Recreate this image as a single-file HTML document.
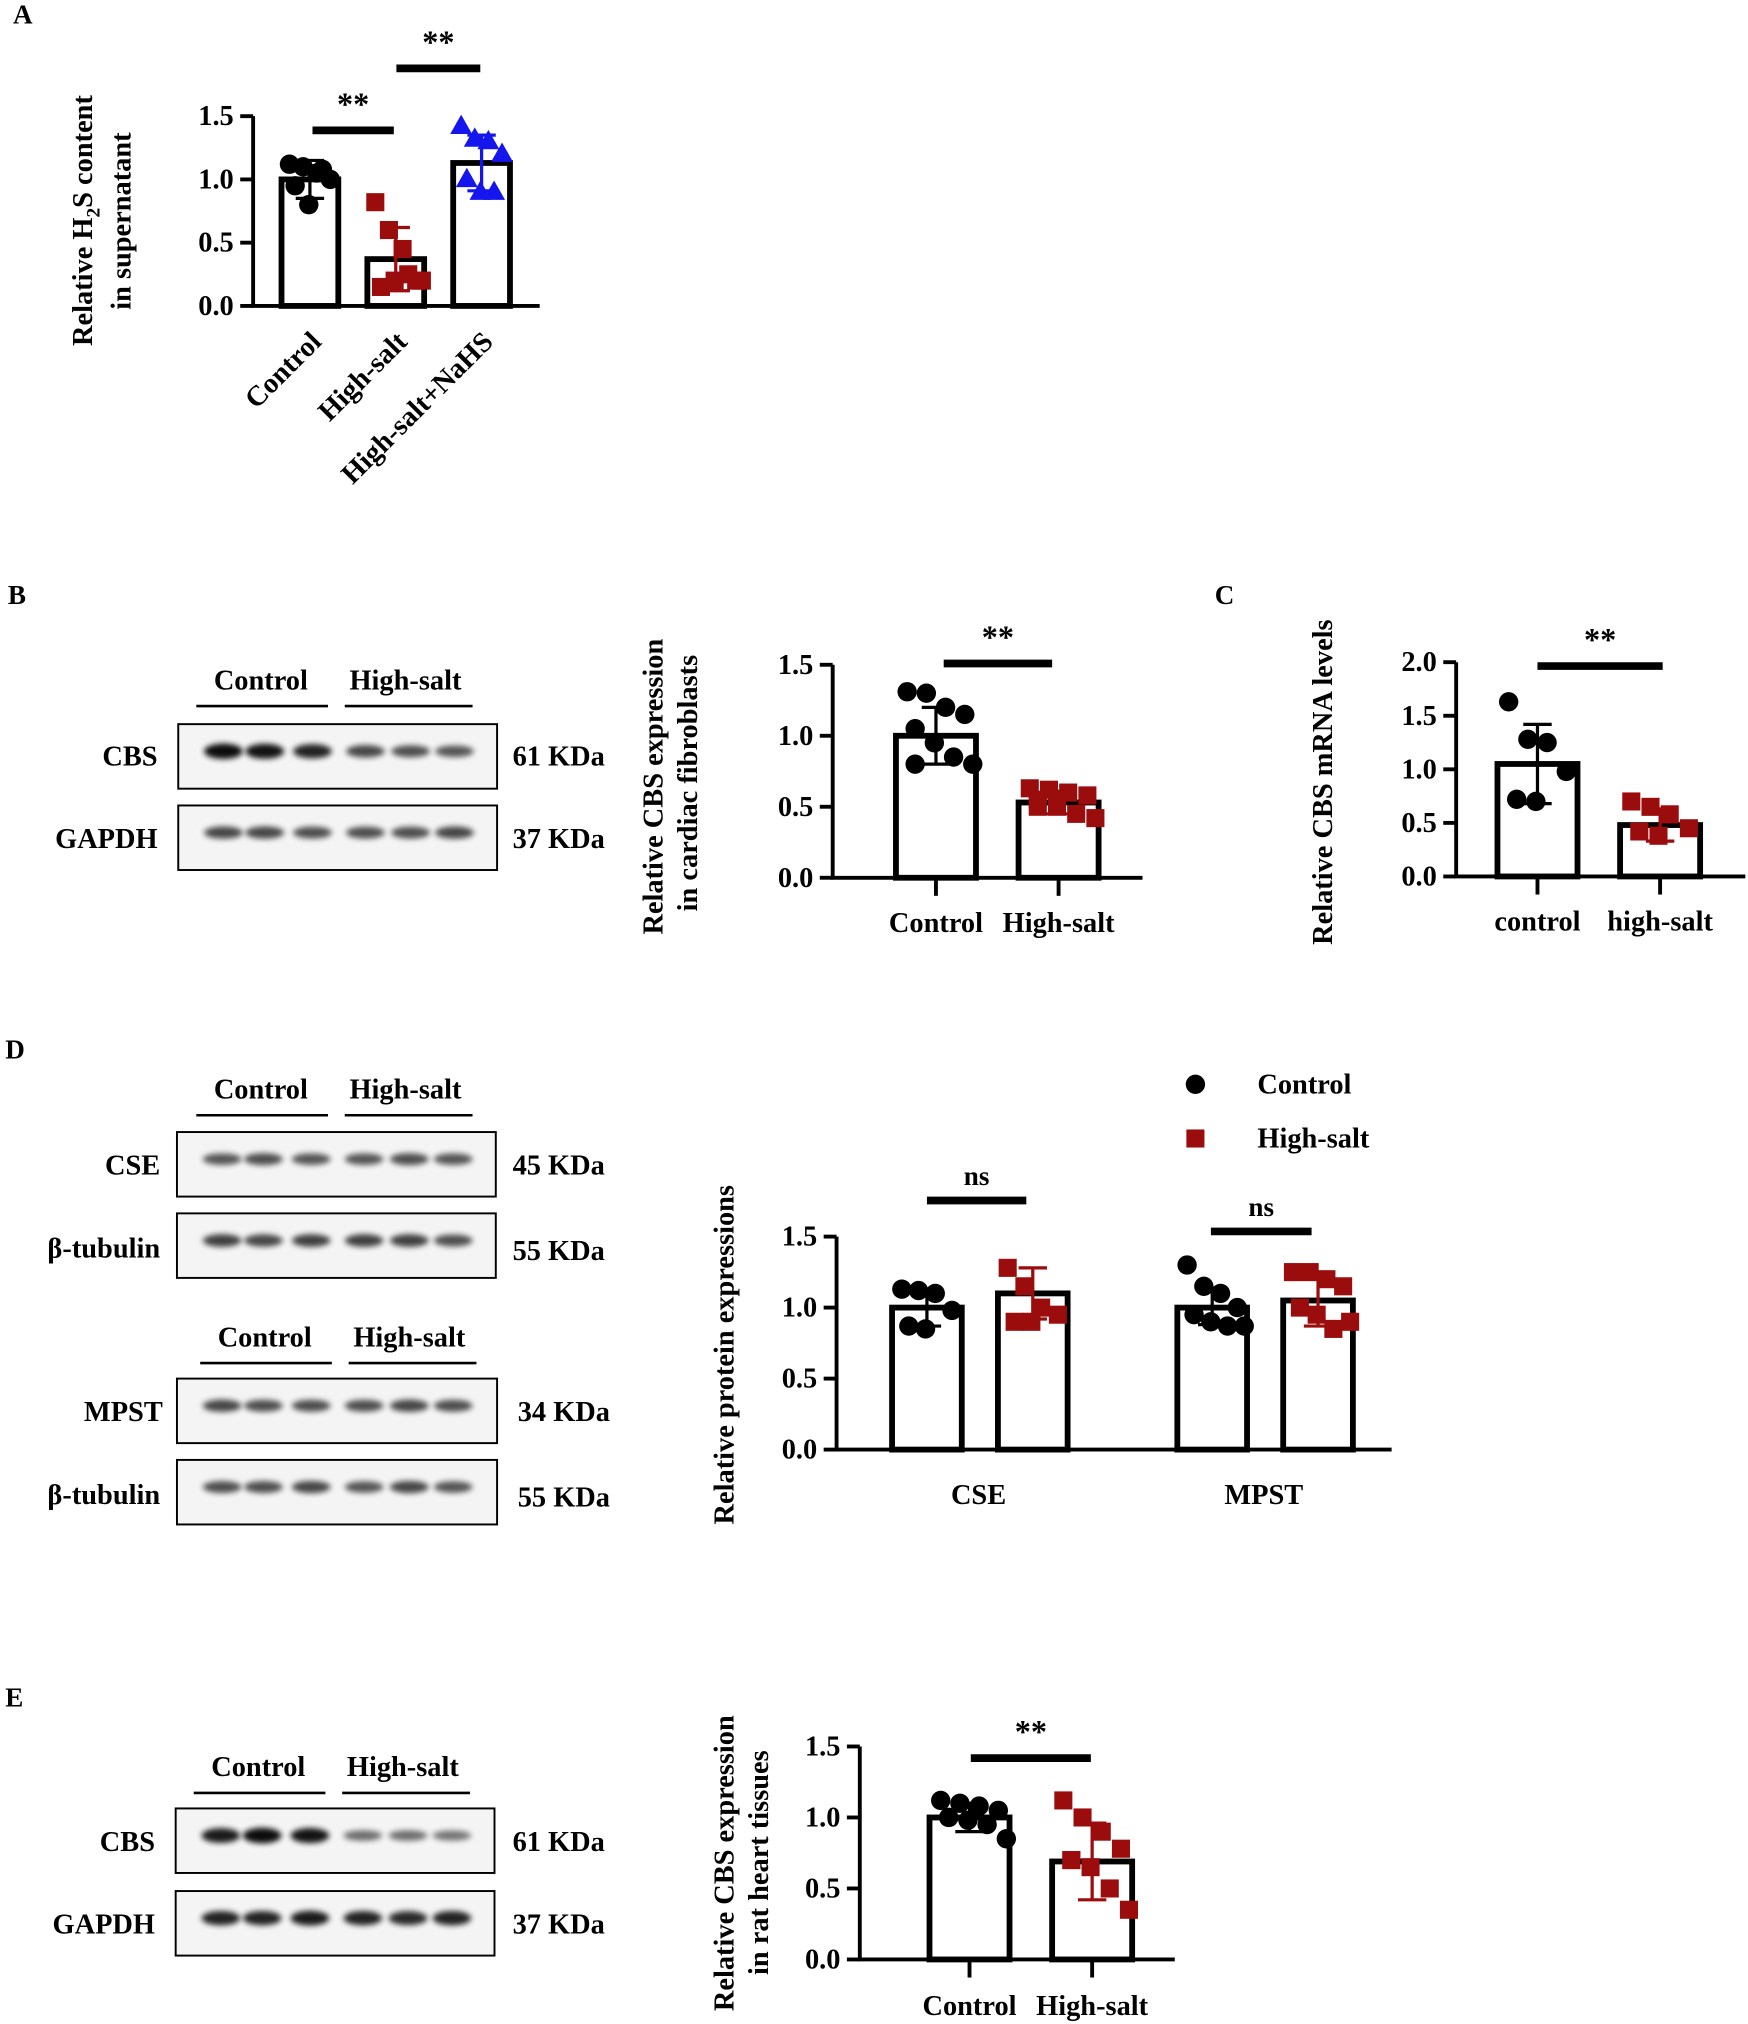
<!DOCTYPE html>
<html><head><meta charset="utf-8">
<style>
html,body{margin:0;padding:0;background:#fff;}
svg{display:block;font-family:"Liberation Serif",serif;font-weight:bold;}
</style></head>
<body>
<svg id="fig" width="1748" height="2024" viewBox="0 0 1354 1568" xmlns="http://www.w3.org/2000/svg">
<defs><filter id="blur" x="-50%" y="-100%" width="200%" height="300%"><feGaussianBlur stdDeviation="2.2"/></filter></defs>
<g id="root"></g>
</svg>
<script>
// ---- data ----
const aCats = ["Control","High-salt","High-salt+NaHS"];
const aMeans = [1.0, 0.37, 1.13];
const aSds = [0.15, 0.25, 0.22];
const aPts0 = [1.12,1.10,1.05,1.0,0.95,0.8,1.08];
const aPts1 = [0.82,0.6,0.45,0.2,0.15,0.2,0.25,0.2];
const aPts2 = [1.42,1.32,1.3,1.2,1.0,0.9,0.9];
const aTicks = ["0.0","0.5","1.0","1.5"];

const bCats = ["Control","High-salt"];
const bMeans = [1.0, 0.53];
const bSds = [0.2, 0.08];
const bPts0 = [1.31,1.3,1.2,1.15,1.05,0.95,0.85,0.8,0.8];
const bPts1 = [0.63,0.62,0.6,0.58,0.55,0.5,0.45,0.42,0.5];
const bTicks = ["0.0","0.5","1.0","1.5"];

const cCats = ["control","high-salt"];
const cMeans = [1.05, 0.48];
const cSds = [0.37, 0.15];
const cPts0 = [1.63,1.28,1.25,0.98,0.72,0.7];
const cPts1 = [0.7,0.65,0.58,0.45,0.42,0.38];
const cTicks = ["0.0","0.5","1.0","1.5","2.0"];

const dCats = ["CSE","MPST"];
const dMeans = [1.0, 1.1, 1.0, 1.05];
const dSds = [0.13, 0.18, 0.12, 0.18];
const dPts0 = [1.13,1.12,1.1,0.98,0.87,0.85];
const dPts1 = [1.28,1.15,1.0,0.95,0.9,0.9];
const dPts2 = [1.3,1.15,1.1,1.0,0.95,0.9,0.87,0.87];
const dPts3 = [1.25,1.25,1.2,1.15,1.0,0.95,0.85,0.9];
const dTicks = ["0.0","0.5","1.0","1.5"];

const eCats = ["Control","High-salt"];
const eMeans = [1.0, 0.69];
const eSds = [0.1, 0.27];
const ePts0 = [1.12,1.1,1.08,1.05,1.0,0.98,0.95,0.85,1.0];
const ePts1 = [1.12,1.0,0.9,0.78,0.7,0.65,0.5,0.35,0.7];
const eTicks = ["0.0","0.5","1.0","1.5"];

// ---- helpers ----
const NS="http://www.w3.org/2000/svg";
const root=document.getElementById('root');
const FS=22;
function el(tag,attrs,parent,text){const e=document.createElementNS(NS,tag);for(const k in attrs)e.setAttribute(k,attrs[k]);if(text!==undefined)e.textContent=text;(parent||root).appendChild(e);return e;}
function txt(x,y,s,size,anchor,parent,name,rot){const t=el('text',{x:x,y:y,'font-size':size,'text-anchor':anchor||'start'},parent,s);


if(rot)t.setAttribute('transform','rotate('+rot+' '+x+' '+y+')');return t;}
const BLACK="#000",RED="#9b0d0d",BLUE="#1515ee";
function marker(g,x,y,shape,color){
  let m;
  if(shape==='c') m=el('circle',{cx:x,cy:y,r:7.5,fill:color},g);
  else if(shape==='s') m=el('rect',{x:x-7,y:y-7,width:14,height:14,fill:color},g);
  else m=el('polygon',{points:(x)+','+(y-9)+' '+(x-8.5)+','+(y+6)+' '+(x+8.5)+','+(y+6),fill:color},g);
  
  
}
function chart(cfg){
  const g=el('g',{},root);
  
  
  const Y=v=>cfg.y0-v*cfg.ppu;
  cfg.means.forEach((m,i)=>{
    const cx=cfg.cx(i),w=cfg.bw;
    const b=el('rect',{x:cx-w/2,y:Y(m),width:w,height:cfg.y0-Y(m),fill:'#fff',stroke:'#000','stroke-width':4.5},g);
    
    
    const pts=cfg.pts[i],col=cfg.colors[i],sh=cfg.shapes[i];
    pts.forEach((v,j)=>{const off=((j%4)-1.5)*w*0.24+(j>=4?w*0.1:0);marker(g,cx+off,Y(v),sh,col);});
    const sd=cfg.sds[i];
    const eb=el('path',{d:`M${cx} ${Y(m-sd)}V${Y(m+sd)}M${cx-11} ${Y(m+sd)}H${cx+11}M${cx-11} ${Y(m-sd)}H${cx+11}`,stroke:col,'stroke-width':2.5,fill:'none'},g);
    
    
  });
  const top=parseFloat(cfg.ticks[cfg.ticks.length-1]);
  const ya=el('path',{d:`M${cfg.x0} ${Y(top)}V${cfg.y0}H${cfg.xEnd}`,stroke:'#000','stroke-width':3,fill:'none'},g);
  
  
  cfg.ticks.forEach(t=>{const v=parseFloat(t);
    el('line',{x1:cfg.x0-10,x2:cfg.x0,y1:Y(v),y2:Y(v),stroke:'#000','stroke-width':3},g);
    txt(cfg.x0-15,Y(v)+7,t,FS,'end',g,'y-tick-label');});
  if(cfg.xticks) cfg.xtickPos.forEach(x=>el('line',{x1:x,x2:x,y1:cfg.y0,y2:cfg.y0+14,stroke:'#000','stroke-width':3},g));
  return {g,Y};
}
function sig(x1,x2,y,s,g){el('line',{x1:x1,x2:x2,y1:y,y2:y,stroke:'#000','stroke-width':6},g);txt((x1+x2)/2,y-12,s,s==='ns'?21:25,'middle',g,'significance-label');}
function blot(x,y,w,h,inten,name){
  const g=el('g',{},root);
  
  
  el('rect',{x:x,y:y,width:w,height:h,fill:'#f4f4f4',stroke:'#000','stroke-width':1.5},g);
  const lanes=[35,67,104,145,180,214];
  lanes.forEach((lx,i)=>{const a=inten[i];
    el('ellipse',{cx:x+lx,cy:y+h*0.42,rx:15,ry:3+a*3,fill:'#000',opacity:0.35+a*0.6,filter:'url(#blur)'},g);});
}
function groupHdr(x,y){
  txt(x+64,y,'Control',FS,'middle',root,'group-label-control');
  el('line',{x1:x+14,x2:x+116,y1:y+13,y2:y+13,stroke:'#000','stroke-width':2});
  txt(x+176,y,'High-salt',FS,'middle',root,'group-label-high-salt');
  el('line',{x1:x+129,x2:x+228,y1:y+13,y2:y+13,stroke:'#000','stroke-width':2});
}

[['A',10,18],['B',6,468],['C',941,468],['D',4,820],['E',4,1322]].forEach(p=>txt(p[1],p[2],p[0],21,'start',root,'panel-label-'+p[0]));

// ---- Panel A ----
let A=chart({name:'chart-a',x0:196,y0:237,ppu:98,xEnd:418,bw:44,cx:i=>240+i*66.5,means:aMeans,sds:aSds,pts:[aPts0,aPts1,aPts2],colors:[BLACK,RED,BLUE],shapes:['c','s','t'],ticks:aTicks});
sig(242,305,101,'**',A.g);sig(307,372,53,'**',A.g);
aCats.forEach((c,i)=>txt(250+i*66.5,266,c,FS,'end',A.g,'x-label',-45));
{
 const t=el('text',{x:71,y:268,'font-size':FS,transform:'rotate(-90 71 268)'},A.g);
 
 
 el('tspan',{},t,'Relative H');
 el('tspan',{'font-size':15,dy:6},t,'2');
 el('tspan',{dy:-6},t,'S content');
}
txt(101,240,'in supernatant',FS,'start',A.g,'y-axis-title-2',-90);

// ---- Panel B ----
groupHdr(138,534);
blot(138,561,247,50,[1,0.95,0.85,0.6,0.55,0.5],'blot-cbs-b');
blot(138,624,247,50,[0.6,0.6,0.55,0.55,0.55,0.6],'blot-gapdh-b');
txt(122,593,'CBS',FS,'end',root,'blot-label');txt(122,657,'GAPDH',FS,'end',root,'blot-label');
txt(397,593,'61 KDa',FS,'start',root,'kda-label');txt(397,657,'37 KDa',FS,'start',root,'kda-label');
let B=chart({name:'chart-b',x0:645,y0:680,ppu:110,xEnd:885,bw:62,cx:i=>725+i*95,means:bMeans,sds:bSds,pts:[bPts0,bPts1],colors:[BLACK,RED],shapes:['c','s'],ticks:bTicks,xticks:1,xtickPos:[725,820]});
sig(731,815,514,'**',B.g);
bCats.forEach((c,i)=>txt(725+i*95,722,c,FS,'middle',B.g,'x-label'));
txt(513,724,'Relative CBS  expression',FS,'start',B.g,'y-axis-title',-90);
txt(540,706,'in cardiac fibroblasts',FS,'start',B.g,'y-axis-title-2',-90);

// ---- Panel C ----
let C=chart({name:'chart-c',x0:1128,y0:679,ppu:83,xEnd:1352,bw:62,cx:i=>1191+i*95,means:cMeans,sds:cSds,pts:[cPts0,cPts1],colors:[BLACK,RED],shapes:['c','s'],ticks:cTicks,xticks:1,xtickPos:[1191,1286]});
sig(1191,1288,516,'**',C.g);
cCats.forEach((c,i)=>txt(1191+i*95,721,c,FS,'middle',C.g,'x-label'));
txt(1032,732,'Relative CBS mRNA levels',FS,'start',C.g,'y-axis-title',-90);

// ---- Panel D ----
groupHdr(138,851);
blot(137,877,247,50,[0.5,0.55,0.5,0.5,0.55,0.5],'blot-cse');
blot(137,940,247,50,[0.65,0.6,0.65,0.65,0.65,0.55],'blot-tubulin-1');
groupHdr(141,1043);
blot(137,1068,248,50,[0.6,0.55,0.55,0.55,0.6,0.55],'blot-mpst');
blot(137,1131,248,50,[0.55,0.55,0.6,0.5,0.6,0.5],'blot-tubulin-2');
txt(124,910,'CSE',FS,'end',root,'blot-label');txt(124,974,'β-tubulin',FS,'end',root,'blot-label');
txt(126,1101,'MPST',FS,'end',root,'blot-label');txt(124,1165,'β-tubulin',FS,'end',root,'blot-label');
txt(397,910,'45 KDa',FS,'start',root,'kda-label');txt(397,976,'55 KDa',FS,'start',root,'kda-label');
txt(401,1101,'34 KDa',FS,'start',root,'kda-label');txt(401,1167,'55 KDa',FS,'start',root,'kda-label');
let D=chart({name:'chart-d',x0:648,y0:1123,ppu:110,xEnd:1078,bw:54,cx:i=>718+(i%2)*82+Math.floor(i/2)*221,means:dMeans,sds:dSds,pts:[dPts0,dPts1,dPts2,dPts3],colors:[BLACK,RED,BLACK,RED],shapes:['c','s','c','s'],ticks:dTicks});
sig(718,795,930,'ns',D.g);sig(938,1016,954,'ns',D.g);
dCats.forEach((c,i)=>txt(758+i*221,1165,c,FS,'middle',D.g,'x-label'));
txt(568,1181,'Relative protein expressions',FS,'start',D.g,'y-axis-title',-90);
marker(D.g,926,840,'c',BLACK);marker(D.g,926,882,'s',RED);
txt(974,847,'Control',FS,'start',D.g,'legend-entry-control');
txt(974,889,'High-salt',FS,'start',D.g,'legend-entry-high-salt');

// ---- Panel E ----
groupHdr(136,1376);
blot(136,1401,247,50,[0.9,1,0.95,0.35,0.35,0.3],'blot-cbs-e');
blot(136,1465,247,50,[0.85,0.85,0.9,0.85,0.8,0.85],'blot-gapdh-e');
txt(120,1434,'CBS',FS,'end',root,'blot-label');txt(120,1498,'GAPDH',FS,'end',root,'blot-label');
txt(397,1434,'61 KDa',FS,'start',root,'kda-label');txt(397,1498,'37 KDa',FS,'start',root,'kda-label');
let E=chart({name:'chart-e',x0:666,y0:1518,ppu:110,xEnd:910,bw:62,cx:i=>751+i*95,means:eMeans,sds:eSds,pts:[ePts0,ePts1],colors:[BLACK,RED],shapes:['c','s'],ticks:eTicks,xticks:1,xtickPos:[751,846]});
sig(752,845,1362,'**',E.g);
eCats.forEach((c,i)=>txt(751+i*95,1561,c,FS,'middle',E.g,'x-label'));
txt(568,1558,'Relative CBS expression',FS,'start',E.g,'y-axis-title',-90);
txt(595,1530,'in rat heart tissues',FS,'start',E.g,'y-axis-title-2',-90);
</script>
</body></html>
